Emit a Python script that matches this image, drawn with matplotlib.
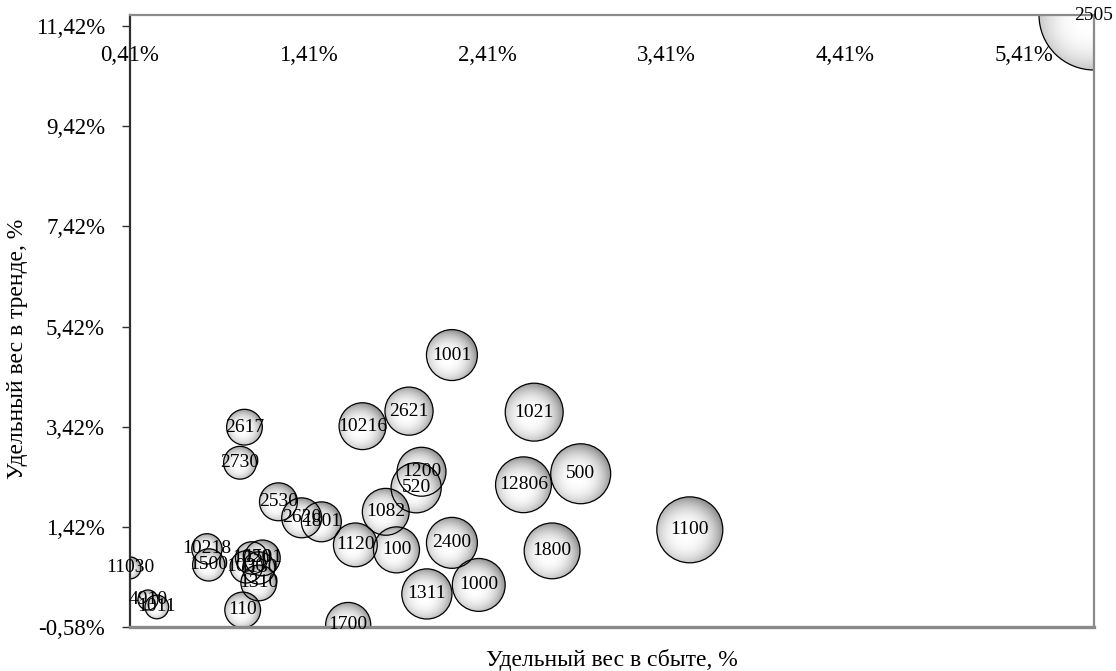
import numpy as np
import matplotlib
matplotlib.use("Agg")
import matplotlib.pyplot as plt
from matplotlib.patches import Ellipse
from matplotlib.transforms import blended_transform_factory

plt.rcParams['font.family'] = ['Liberation Serif', 'DejaVu Serif']

# codes, share of sales (%), share of trend (%), volume (bubble size)
codes = ['2505', '1100', '1800', '500', '12806', '1021', '1001', '2621', '10216',
         '1200', '520', '1082', '1120', '100', '2400', '1311', '1000', '1700',
         '2617', '2730', '2530', '1801', '2620', '10218', '1500', '1020', '1501',
         '1030', '1130', '1310', '110', '11030', '4910', '1011']
sales = [5.80, 3.54, 2.77, 2.93, 2.61, 2.67, 2.21, 1.97, 1.71,
         2.04, 2.01, 1.84, 1.67, 1.90, 2.21, 2.07, 2.36, 1.63,
         1.05, 1.025, 1.24, 1.48, 1.37, 0.84, 0.85, 1.09, 1.15,
         1.06, 1.13, 1.13, 1.04, 0.41, 0.51, 0.56]
trend = [11.64, 1.36, 0.94, 2.48, 2.26, 3.71, 4.85, 3.73, 3.43,
         2.52, 2.20, 1.72, 1.06, 0.96, 1.10, 0.08, 0.26, -0.54,
         3.41, 2.70, 1.92, 1.52, 1.60, 0.98, 0.66, 0.80, 0.80,
         0.62, 0.60, 0.30, -0.24, 0.60, -0.04, -0.18]
volume = [303, 109, 78, 90, 78, 84, 65, 58, 55,
          60, 63, 55, 48, 53, 65, 63, 70, 51,
          32, 27, 36, 40, 40, 23, 26, 26, 32,
          26, 26, 32, 32, 12, 10, 14]

yticks = [-0.58, 1.42, 3.42, 5.42, 7.42, 9.42, 11.42]
xticks = [0.41, 1.41, 2.41, 3.41, 4.41, 5.41]

W, H = 1116, 671
ax_w, ax_h = 964, 612
fig = plt.figure(figsize=(W / 100, H / 100), dpi=100)
ax = fig.add_axes([130 / W, 44 / H, ax_w / W, ax_h / H])
xlim = (0.41, 5.80)
ylim = (-0.58, 11.64)
ax.set_xlim(*xlim)
ax.set_ylim(*ylim)

# pixels per data unit, so bubbles stay round
kx = ax_w / (xlim[1] - xlim[0])
ky = ax_h / (ylim[1] - ylim[0])

def pct(v):
    return '{:.2f}%'.format(v).replace('.', ',')

# radial shading: white highlight slightly up-left, grey towards the rim
g = np.linspace(-1, 1, 200)
gx, gy = np.meshgrid(g, g)
d = np.clip(np.hypot(gx + 0.12, gy - 0.12) / 1.12, 0, 1)
shade = 1 - 0.42 * d ** 2.6

vmax = max(volume)
for code, x, y, v in zip(codes, sales, trend, volume):
    r = 55 * np.sqrt(v / vmax)
    rx, ry = r / kx, r / ky
    disc = Ellipse((x, y), 2 * rx, 2 * ry, fc='none', ec='none')
    ax.add_patch(disc)
    im = ax.imshow(shade, cmap='gray', vmin=0, vmax=1, origin='upper',
                   extent=(x - rx, x + rx, y - ry, y + ry), interpolation='bilinear')
    im.set_clip_path(disc)
    ax.add_patch(Ellipse((x, y), 2 * rx, 2 * ry, fc='none', ec='black', lw=0.9))

ax.set_aspect('auto')
ax.set_xlim(*xlim)
ax.set_ylim(*ylim)

for code, x, y in zip(codes, sales, trend):
    ax.text(x, y, code, ha='center', va='center', fontsize=14, clip_on=False)

# axes frame
for side in ['top', 'right', 'bottom']:
    ax.spines[side].set_color('#8a8a8a')
ax.spines['top'].set_linewidth(1.6)
ax.spines['right'].set_linewidth(1.6)
ax.spines['bottom'].set_linewidth(2.4)
ax.spines['left'].set_color('#303030')
ax.spines['left'].set_linewidth(1.6)

ax.set_yticks(yticks)
ax.set_yticklabels([pct(t) for t in yticks], fontsize=16.5)
ax.tick_params(axis='y', direction='out', length=6, width=1, color='#303030', pad=12)
ax.set_xticks([])

# sales-share labels run along the top of the plot
tr = blended_transform_factory(ax.transData, ax.transAxes)
for t in xticks:
    ax.text(t, 0.951, pct(t), transform=tr, ha='center', va='top', fontsize=16.5)

fig.text(612 / W, 11 / H, 'Удельный вес в сбыте, %', ha='center', va='center', fontsize=17)
fig.text(18 / W, 322 / H, 'Удельный вес в тренде, %', ha='center', va='center',
         rotation=90, fontsize=17)

fig.savefig('out.png', dpi=100)
